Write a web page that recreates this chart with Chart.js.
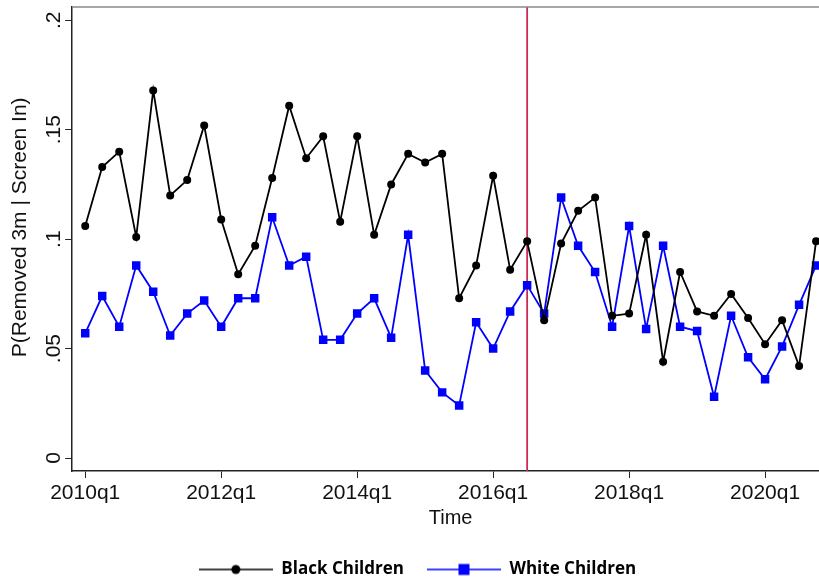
<!DOCTYPE html>
<html>
<head>
<meta charset="utf-8">
<script src="https://cdn.jsdelivr.net/npm/chart.js@4/dist/chart.umd.min.js"></script>
<style>
  html, body { margin: 0; padding: 0; background: #fff; overflow: hidden; }
  #wrap { width: 835px; height: 588px; }
</style>
</head>
<body>
<div id="wrap"><canvas id="grafico"></canvas></div>
<script>
// quarters 2010q1 .. 2020q4
const quarters = [];
for (let y = 2010; y <= 2020; y++) {
  for (let q = 1; q <= 4; q++) quarters.push(y + 'q' + q);
}

const black = [0.106, 0.133, 0.140, 0.101, 0.168, 0.120, 0.127, 0.152, 0.109, 0.084, 0.097,
  0.128, 0.161, 0.137, 0.147, 0.108, 0.147, 0.102, 0.125, 0.139, 0.135, 0.139, 0.073,
  0.088, 0.129, 0.086, 0.099, 0.063, 0.098, 0.113, 0.119, 0.065, 0.066, 0.102, 0.044,
  0.085, 0.067, 0.065, 0.075, 0.064, 0.052, 0.063, 0.042, 0.099];

const white = [0.057, 0.074, 0.060, 0.088, 0.076, 0.056, 0.066, 0.072, 0.060, 0.073, 0.073,
  0.110, 0.088, 0.092, 0.054, 0.054, 0.066, 0.073, 0.055, 0.102, 0.040, 0.030, 0.024,
  0.062, 0.050, 0.067, 0.079, 0.066, 0.119, 0.097, 0.085, 0.060, 0.106, 0.059, 0.097,
  0.060, 0.058, 0.028, 0.065, 0.046, 0.036, 0.051, 0.070, 0.088];

const xTickLabels = ['2010q1', '2012q1', '2014q1', '2016q1', '2018q1', '2020q1'];
const yTicks = [0, 0.05, 0.1, 0.15, 0.2];
const yTickLabels = ['0', '.05', '.1', '.15', '.2'];
const policyQuarter = '2016q3';

const FONT = "'Liberation Sans', Arial, sans-serif";

function legendIcon(color, marker) {
  const c = document.createElement('canvas');
  c.width = 74;
  c.height = 14;
  const g = c.getContext('2d');
  g.strokeStyle = color;
  g.lineWidth = 1.6;
  g.beginPath();
  g.moveTo(0, 7);
  g.lineTo(74, 7);
  g.stroke();
  g.fillStyle = color;
  if (marker == 'circle') {
    g.beginPath();
    g.arc(37, 7, 4.5, 0, Math.PI * 2);
    g.fill();
  } else {
    g.fillRect(31.5, 1.5, 11, 11);
  }
  return c;
}

const lineaPolitica = {
  id: 'lineaPolitica',
  beforeDatasetsDraw(chart) {
    const {ctx, chartArea} = chart;
    const x = chart.scales.x.getPixelForValue(quarters.indexOf(policyQuarter));
    ctx.save();
    ctx.strokeStyle = '#cc2a55';
    ctx.lineWidth = 1.8;
    ctx.beginPath();
    ctx.moveTo(x, chartArea.top);
    ctx.lineTo(x, chartArea.bottom);
    ctx.stroke();
    // top border of the plot region
    ctx.strokeStyle = '#888';
    ctx.lineWidth = 1.5;
    ctx.beginPath();
    ctx.moveTo(chartArea.left, chartArea.top);
    ctx.lineTo(chartArea.right, chartArea.top);
    ctx.stroke();
    ctx.restore();
  }
};

const ctx = document.getElementById('grafico');

window.grafica = new Chart(ctx, {
  type: 'line',
  data: {
    datasets: [{
      label: 'Black Children',
      data: black.map((v, i) => ({x: i, y: v})),
      borderColor: '#000',
      backgroundColor: '#000',
      borderWidth: 1.8,
      pointStyle: 'circle',
      pointRadius: 4,
      pointBorderWidth: 0,
      tension: 0
    },
    {
      label: 'White Children',
      data: white.map((v, i) => ({x: i, y: v})),
      borderColor: '#0000ff',
      backgroundColor: '#0000ff',
      borderWidth: 1.8,
      pointStyle: 'rect',
      pointRadius: 6,
      pointBorderWidth: 0,
      tension: 0
    }]
  },
  options: {
    responsive: true,
    maintainAspectRatio: false,
    animation: false,
    devicePixelRatio: 1,
    layout: { padding: { left: 0, right: 0, top: 7, bottom: 0 } },
    plugins: {
      tooltip: { enabled: false },
      legend: {
        position: 'bottom',
        labels: {
          usePointStyle: true,
          pointStyleWidth: 74,
          boxHeight: 17,
          padding: 23,
          color: '#000',
          font: { family: "'Open Sans', sans-serif", size: 17, weight: 'bold' },
          generateLabels: () => [
            { text: 'Black Children', pointStyle: legendIcon('#000', 'circle'), fontColor: '#000',
              fillStyle: '#000', strokeStyle: '#000', lineWidth: 0, hidden: false, datasetIndex: 0 },
            { text: 'White Children', pointStyle: legendIcon('#0000ff', 'rect'), fontColor: '#000',
              fillStyle: '#00f', strokeStyle: '#00f', lineWidth: 0, hidden: false, datasetIndex: 1 }
          ]
        }
      }
    },
    scales: {
      x: {
        type: 'linear',
        min: -0.766,
        max: 43.76,
        afterBuildTicks: (s) => {
          s.ticks = xTickLabels.map(l => ({ value: quarters.indexOf(l) }));
        },
        grid: { drawOnChartArea: false, drawTicks: true, tickLength: 7, color: '#222' },
        border: { color: '#222', width: 1.5 },
        ticks: {
          callback: (v) => quarters[v],
          autoSkip: false,
          maxRotation: 0,
          padding: 5,
          color: '#111',
          font: { family: FONT, size: 21, lineHeight: 1 }
        },
        title: {
          display: true,
          text: 'Time',
          color: '#111',
          font: { family: FONT, size: 20, lineHeight: 1 },
          padding: { top: -1, bottom: 10 }
        }
      },
      y: {
        min: -0.00593,
        max: 0.2061,
        afterBuildTicks: (s) => {
          s.ticks = yTicks.map(v => ({ value: v }));
        },
        grid: { drawOnChartArea: false, drawTicks: true, tickLength: 7, color: '#222' },
        border: { color: '#222', width: 1.5 },
        ticks: {
          callback: (v) => yTickLabels[yTicks.indexOf(v)],
          minRotation: 90,
          maxRotation: 90,
          crossAlign: 'center',
          padding: -4,
          color: '#111',
          font: { family: FONT, size: 21, lineHeight: 1 }
        },
        title: {
          display: true,
          text: '    P(Removed 3m | Screen In)',
          color: '#111',
          font: { family: FONT, size: 21, lineHeight: 1.2 },
          padding: { top: 8, bottom: 19 }
        }
      }
    }
  },
  plugins: [lineaPolitica]
});
</script>
</body>
</html>
